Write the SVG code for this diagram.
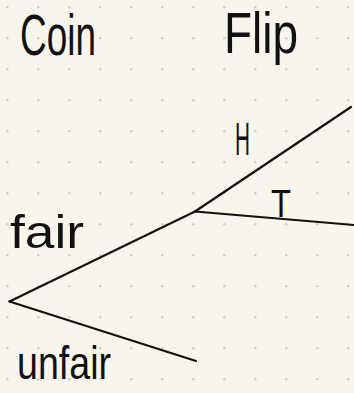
<svg xmlns="http://www.w3.org/2000/svg" width="354" height="393" viewBox="0 0 354 393">
<defs>
<pattern id="dots" x="0" y="0" width="31" height="31" patternUnits="userSpaceOnUse">
<circle cx="7.3" cy="7.3" r="1.3" fill="#cfcdc4"/>
</pattern>
<style>
.hw{font-family:"Liberation Sans Narrow","Liberation Sans",sans-serif;fill:#111;}
.edge{stroke:#111;stroke-width:2.2;fill:none;stroke-linecap:round;}
</style>
</defs>
<rect width="354" height="393" fill="#f8f6ec"/>
<rect width="354" height="393" fill="url(#dots)"/>
<g id="title-coin"><text class="hw" x="20" y="55" font-size="58" textLength="76" lengthAdjust="spacingAndGlyphs">Coin</text></g>
<g id="title-flip"><text class="hw" x="224" y="53" font-size="58" textLength="74" lengthAdjust="spacingAndGlyphs">Flip</text></g>
<g id="connectors">
<line class="edge" x1="9.5" y1="301.5" x2="195" y2="211.5"/>
<line class="edge" x1="9.5" y1="301.5" x2="196" y2="361"/>
<line class="edge" x1="195" y1="211.5" x2="351" y2="107"/>
<line class="edge" x1="195" y1="211.5" x2="354" y2="225"/>
</g>
<g id="label-fair"><text class="hw" x="10" y="248" font-size="46" textLength="74" lengthAdjust="spacingAndGlyphs">fair</text></g>
<g id="label-unfair"><text class="hw" x="17" y="379" font-size="46" textLength="94" lengthAdjust="spacingAndGlyphs">unfair</text></g>
<g id="label-H"><text class="hw" x="235" y="155" font-size="46" textLength="15" lengthAdjust="spacingAndGlyphs">H</text></g>
<g id="label-T"><text class="hw" x="271" y="217" font-size="38" textLength="20" lengthAdjust="spacingAndGlyphs">T</text></g>
</svg>
